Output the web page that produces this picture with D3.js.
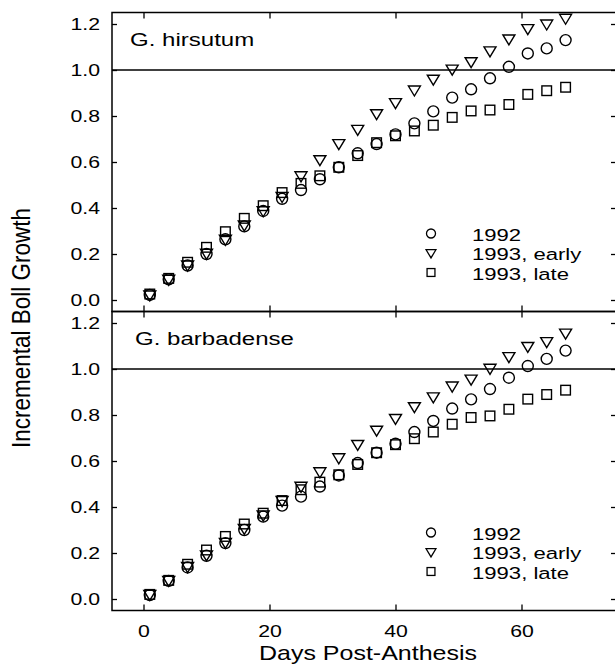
<!DOCTYPE html>
<html lang="en">
<head>
<meta charset="UTF-8">
<title>Incremental Boll Growth</title>
<script src="https://cdn.jsdelivr.net/npm/d3@7"></script>
<style>
  body { margin: 0; background: #fff; }
  svg { display: block; font-family: "Liberation Sans", Arial, sans-serif; }
</style>
</head>
<body>
<div id="container"></div>
<script>
// days post-anthesis, sampled every 3 days
const days = [1, 4, 7, 10, 13, 16, 19, 22, 25, 28, 31, 34, 37, 40, 43, 46, 49, 52, 55, 58, 61, 64, 67];

// G. hirsutum
const hirsutum1992 = [0.022, 0.09, 0.15, 0.20, 0.264, 0.32, 0.387, 0.44, 0.478, 0.525, 0.577, 0.638,
  0.678, 0.72, 0.768, 0.82, 0.88, 0.916, 0.964, 1.014, 1.072, 1.094, 1.13];
const hirsutum1993early = [0.022, 0.09, 0.152, 0.203, 0.264, 0.326, 0.388, 0.45, 0.54, 0.61, 0.68, 0.742,
  0.81, 0.858, 0.913, 0.96, 1.004, 1.036, 1.083, 1.135, 1.18, 1.20, 1.225];
const hirsutum1993late = [0.026, 0.094, 0.164, 0.229, 0.297, 0.355, 0.41, 0.467, 0.507, 0.54, 0.577, 0.628,
  0.684, 0.714, 0.735, 0.76, 0.794, 0.822, 0.826, 0.85, 0.894, 0.91, 0.925];

// G. barbadense
const barbadense1992 = [0.017, 0.079, 0.137, 0.188, 0.243, 0.30, 0.358, 0.406, 0.445, 0.489, 0.537, 0.591,
  0.636, 0.675, 0.726, 0.774, 0.828, 0.868, 0.913, 0.962, 1.013, 1.044, 1.08];
const barbadense1993early = [0.02, 0.081, 0.141, 0.192, 0.246, 0.307, 0.365, 0.428, 0.49, 0.553, 0.614, 0.672,
  0.734, 0.785, 0.836, 0.879, 0.926, 0.956, 1.003, 1.054, 1.098, 1.119, 1.156];
const barbadense1993late = [0.02, 0.081, 0.151, 0.213, 0.272, 0.326, 0.373, 0.428, 0.475, 0.508, 0.54, 0.585,
  0.636, 0.671, 0.697, 0.726, 0.76, 0.789, 0.796, 0.825, 0.869, 0.889, 0.908];

const seriesNames = ["1992", "1993, early", "1993, late"];
const panelNames = ["G. hirsutum", "G. barbadense"];
const xTicks = [0, 20, 40, 60];
const yTicks = [0.0, 0.2, 0.4, 0.6, 0.8, 1.0, 1.2];

const panels = [
  { name: panelNames[0], series: [hirsutum1992, hirsutum1993early, hirsutum1993late] },
  { name: panelNames[1], series: [barbadense1992, barbadense1993early, barbadense1993late] }
];

const width = 615, height = 666;
const left = 112, right = 616;
const panelTop = [12.5, 311.5], panelH = 299;
const stretch = 1.25; // the original lettering is a bit wide

const svg = d3.select("#container").append("svg")
  .attr("width", width)
  .attr("height", height);

const x = d3.scaleLinear().domain([-5, 75]).range([left, right]);

// open markers: circle, down triangle, square
function marker(g, i, k) {
  if (i === 0) g.append("circle").attr("r", 5.5 * k);
  else if (i === 1) g.append("path").attr("d", `M${-6 * k},${-4 * k}L${6 * k},${-4 * k}L0,${6 * k}Z`);
  else g.append("rect").attr("x", -4.8 * k).attr("y", -4.8 * k).attr("width", 9.6 * k).attr("height", 9.6 * k);
}

function wideText(parent, tx, ty, size, sx, str, anchor) {
  return parent.append("text")
    .attr("transform", `translate(${tx},${ty}) scale(${sx},1)`)
    .attr("font-size", size)
    .attr("text-anchor", anchor || "start")
    .text(str);
}

panels.forEach((p, pi) => {
  const top = panelTop[pi];
  const y = d3.scaleLinear().domain([-0.05, 1.25]).range([top + panelH, top]);
  const g = svg.append("g");

  // frame
  g.append("rect")
    .attr("x", left).attr("y", top)
    .attr("width", right - left).attr("height", panelH)
    .attr("fill", "none").attr("stroke", "#000").attr("stroke-width", 1.5);

  // inward ticks
  g.append("g").attr("transform", `translate(${left},0)`)
    .call(d3.axisLeft(y).tickValues(yTicks).tickSizeInner(-5).tickSizeOuter(0).tickPadding(9.6).tickFormat(d3.format(".1f")))
    .call(a => a.select(".domain").remove())
    .call(a => a.selectAll("text")
      .attr("font-size", 17).attr("font-family", "Liberation Sans, Arial, sans-serif")
      .attr("transform", `scale(${stretch},1)`));
  g.append("g").attr("transform", `translate(${right},0)`)
    .call(d3.axisRight(y).tickValues(yTicks).tickSizeInner(-5).tickSizeOuter(0).tickFormat(""))
    .call(a => a.select(".domain").remove());
  g.append("g").attr("transform", `translate(0,${top})`)
    .call(d3.axisTop(x).tickValues(xTicks).tickSizeInner(-6).tickSizeOuter(0).tickFormat(""))
    .call(a => a.select(".domain").remove());
  const bottomAxis = d3.axisBottom(x).tickValues(xTicks).tickSizeInner(-6).tickSizeOuter(0).tickPadding(14);
  if (pi === 0) bottomAxis.tickFormat("");
  g.append("g").attr("transform", `translate(0,${top + panelH})`)
    .call(bottomAxis)
    .call(a => a.select(".domain").remove())
    .call(a => a.selectAll("text")
      .attr("font-size", 17).attr("font-family", "Liberation Sans, Arial, sans-serif")
      .attr("transform", `scale(${stretch},1)`));
  g.selectAll(".tick line").attr("stroke-width", 1.3);

  // reference line at 1.0
  g.append("line")
    .attr("x1", left).attr("x2", right)
    .attr("y1", y(1)).attr("y2", y(1))
    .attr("stroke", "#000").attr("stroke-width", 1.5);

  // panel label
  wideText(g, pi === 0 ? 130 : 135, top + 33, 18.5, 1.3, p.name);

  // points
  p.series.forEach((vals, si) => {
    g.append("g")
      .selectAll("g")
      .data(days.map((d, k) => [d, vals[k]]))
      .join("g")
      .attr("transform", d => `translate(${x(d[0])},${y(d[1])})`)
      .attr("fill", "none").attr("stroke", "#000").attr("stroke-width", 1.4)
      .each(function() { marker(d3.select(this), si, 1); });
  });

  // legend
  const leg = g.append("g").attr("transform", `translate(431,${top + 221})`);
  seriesNames.forEach((s, si) => {
    const row = leg.append("g").attr("transform", `translate(0,${si * 19.5})`);
    const m = row.append("g").attr("fill", "none").attr("stroke", "#000").attr("stroke-width", 1.3);
    marker(m, si, 0.82);
    wideText(row, 41, 7, 17, 1.3, s);
  });
});

// axis titles
wideText(svg, 368, 660, 21, 1.19, "Days Post-Anthesis", "middle");
svg.append("text")
  .attr("transform", "translate(30,328) rotate(-90) scale(1,1.15)")
  .attr("text-anchor", "middle").attr("font-size", 22.5)
  .text("Incremental Boll Growth");
</script>
</body>
</html>
